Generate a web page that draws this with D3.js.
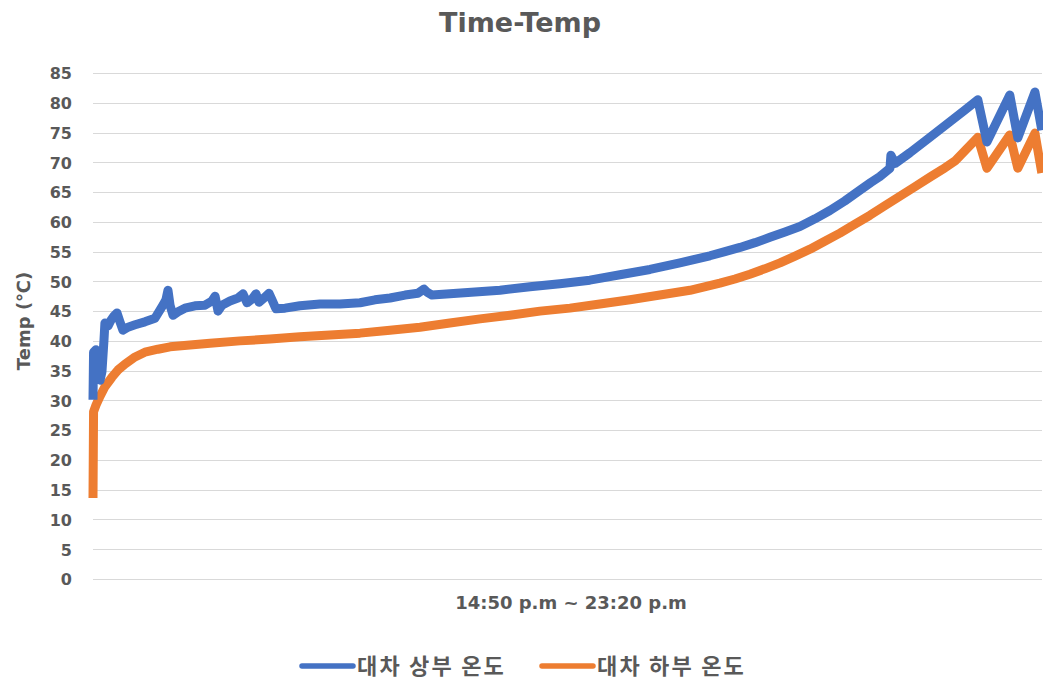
<!DOCTYPE html>
<html>
<head>
<meta charset="utf-8">
<script src="https://cdn.jsdelivr.net/npm/d3@7"></script>
<style>
  html, body { margin: 0; padding: 0; background: #ffffff; }
  svg { display: block; }
</style>
</head>
<body>
<svg id="chart" width="1043" height="684"></svg>
<script>
// Minutes elapsed since 14:50 and recorded temperatures (°C)
const topMinutes = [0, 0.3, 1.6, 2.7, 3.8, 4.8, 5.9, 6.4, 8.1, 9.7, 11.3, 12.9, 14.5, 16.1, 18.8, 22.6,
  27.9, 33.3, 37.6, 39.2, 40.3, 41.4, 43.0, 45.7, 49.4, 54.8, 60.2, 63.9, 65.6, 67.2, 69.3, 73.6,
  77.9, 80.6, 82.8, 85.4, 87.6, 89.2, 91.9, 94.6, 96.2, 98.3, 103.2, 111.2, 122, 132.7, 143.5,
  151.5, 159.6, 167.7, 174.6, 177.9, 179.5, 182.2, 191.8, 205.3, 218.7, 234.8, 250.9, 267,
  283.2, 299.3, 315.4, 331.5, 339.6, 347.7, 355.8, 363.8, 371.9, 379.9, 388, 396, 404, 412.1,
  418, 422.9, 426, 428.3, 428.8, 431.0, 439, 449.8, 460.5, 468.6, 475.5, 480.4, 492.7, 497,
  506.2, 509.9];
const topTemps = [30.1, 38.1, 38.5, 37.5, 33.4, 34.8, 40.1, 43.0, 42.5, 43.5, 44.2, 44.7, 43.2, 41.8, 42.3, 42.7,
  43.2, 43.8, 46.0, 46.9, 48.5, 46.0, 44.3, 44.9, 45.5, 45.9, 46.0, 46.7, 47.5, 45.0, 46.0, 46.7,
  47.2, 47.9, 46.4, 47.0, 47.9, 46.5, 47.2, 48.0, 46.9, 45.4, 45.5, 45.9, 46.2, 46.2, 46.4,
  46.9, 47.2, 47.7, 48.0, 48.7, 48.2, 47.7, 47.9, 48.2, 48.5, 49.1, 49.6, 50.2,
  51.1, 52.0, 53.1, 54.3, 55.0, 55.7, 56.5, 57.4, 58.3, 59.2, 60.5, 61.9, 63.5, 65.3,
  66.6, 67.6, 68.4, 69.0, 71.2, 69.8, 71.6, 74.2, 76.8, 78.8, 80.5, 73.4, 81.3, 74.1,
  81.8, 75.4];

const bottomMinutes = [0, 0.3, 1.6, 3.8, 6.4, 10.2, 13.4, 17.2, 22.6, 27.9, 34.9, 41.4, 52.1, 62.9,
  79, 95.1, 111.2, 127.4, 143.5, 159.6, 175.7, 191.8, 208, 224.1, 240.2, 256.3, 272.4, 288.6,
  304.7, 320.8, 336.9, 345, 353, 361, 369.2, 377, 385.3, 393, 401.4, 409.5, 417.5, 425.5,
  433.6, 441.7, 449.8, 456.5, 463.2, 475.5, 480.4, 492.7, 497, 506.2, 509.9];
const bottomTemps = [13.6, 28.1, 29.2, 30.7, 32.3, 33.9, 35.1, 36.1, 37.3, 38.1, 38.6, 39.0, 39.3, 39.6,
  40.0, 40.3, 40.7, 41.0, 41.3, 41.8, 42.3, 43.0, 43.7, 44.3, 45.0, 45.5, 46.2, 46.9,
  47.7, 48.5, 49.7, 50.4, 51.2, 52.1, 53.1, 54.2, 55.4, 56.7, 58.1, 59.6, 61.1, 62.7,
  64.3, 65.9, 67.5, 68.8, 70.2, 74.2, 69.0, 74.6, 69.0, 74.9, 68.2];

const seriesNames = ["대차 상부 온도", "대차 하부 온도"];
const seriesColors = ["#4472C4", "#ED7D31"];
const yTicks = d3.range(0, 86, 5);

const svg = d3.select("#chart");
const textColor = "#595959";

const x = d3.scaleLinear().domain([0, 510]).range([93, 1042]);
const y = d3.scaleLinear().domain([0, 85]).range([579, 73]);

// Horizontal gridlines
svg.append("g")
  .selectAll("line")
  .data(yTicks)
  .join("line")
  .attr("x1", 93).attr("x2", 1042)
  .attr("y1", d => Math.round(y(d)) + 0.5)
  .attr("y2", d => Math.round(y(d)) + 0.5)
  .attr("stroke", "#d9d9d9")
  .attr("stroke-width", 1);

// Y axis tick labels
const yAxis = d3.axisLeft(y).tickValues(yTicks).tickSize(0).tickPadding(0);
const gy = svg.append("g").attr("transform", "translate(72,0)").call(yAxis);
gy.select(".domain").remove();
gy.selectAll("text")
  .attr("fill", textColor)
  .attr("font-family", "DejaVu Sans, sans-serif")
  .attr("font-weight", "bold")
  .attr("font-size", 16)
  .attr("dy", "0.36em");

// Series lines
const line = d3.line()
  .x(d => x(d[0]))
  .y(d => y(d[1]));

const series = [
  d3.zip(topMinutes, topTemps),
  d3.zip(bottomMinutes, bottomTemps)
];

// draw the lower series first so the upper series sits on top
[1, 0].forEach(i => {
  svg.append("path")
    .datum(series[i])
    .attr("d", line)
    .attr("fill", "none")
    .attr("stroke", seriesColors[i])
    .attr("stroke-width", 9)
    .attr("stroke-linejoin", "round")
    .attr("stroke-linecap", "butt");
});

// Title
svg.append("text")
  .attr("x", 520).attr("y", 32)
  .attr("text-anchor", "middle")
  .attr("fill", textColor)
  .attr("font-family", "DejaVu Sans, sans-serif")
  .attr("font-weight", "bold")
  .attr("font-size", 27)
  .text("Time-Temp");

// Axis titles
svg.append("text")
  .attr("x", 571).attr("y", 609)
  .attr("text-anchor", "middle")
  .attr("fill", textColor)
  .attr("font-family", "DejaVu Sans, sans-serif")
  .attr("font-weight", "bold")
  .attr("font-size", 18)
  .text("14:50 p.m ~ 23:20 p.m");

svg.append("text")
  .attr("transform", "translate(30,321) rotate(-90)")
  .attr("text-anchor", "middle")
  .attr("fill", textColor)
  .attr("font-family", "DejaVu Sans, sans-serif")
  .attr("font-weight", "bold")
  .attr("font-size", 18)
  .text("Temp (℃)");

// Legend
const legendX = [302, 542];
const legend = svg.append("g");
seriesNames.forEach((name, i) => {
  const g = legend.append("g").attr("transform", `translate(${legendX[i]},666)`);
  g.append("line")
    .attr("x1", 0).attr("x2", 51)
    .attr("y1", 0).attr("y2", 0)
    .attr("stroke", seriesColors[i])
    .attr("stroke-width", 5.5)
    .attr("stroke-linecap", "round");
  g.append("text")
    .attr("x", 55).attr("y", 0)
    .attr("dy", "0.36em")
    .attr("fill", textColor)
    .attr("font-family", "Noto Sans CJK KR, sans-serif")
    .attr("font-weight", "bold")
    .attr("font-size", 22)
    .attr("letter-spacing", 2.2)
    .text(name);
});
</script>
</body>
</html>
